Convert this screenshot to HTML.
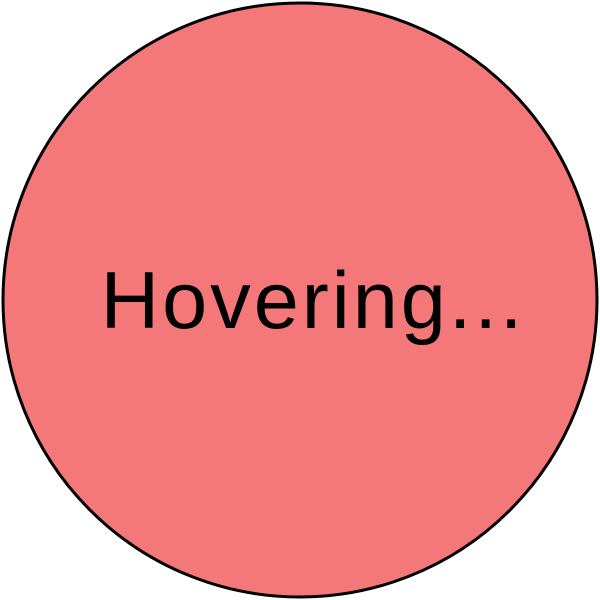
<!DOCTYPE html>
<html>
<head>
<meta charset="utf-8">
<style>
  html, body { margin: 0; padding: 0; background: #ffffff; width: 600px; height: 600px; overflow: hidden; }
</style>
</head>
<body>
<svg width="600" height="600" viewBox="0 0 600 600">
  <circle cx="300" cy="300" r="297" fill="#F4777A" stroke="#000000" stroke-width="3"/>
  <text x="313" y="328" text-anchor="middle" font-family="'Liberation Sans', sans-serif" font-size="81" letter-spacing="3" fill="#000000">Hovering...</text>
</svg>
</body>
</html>
